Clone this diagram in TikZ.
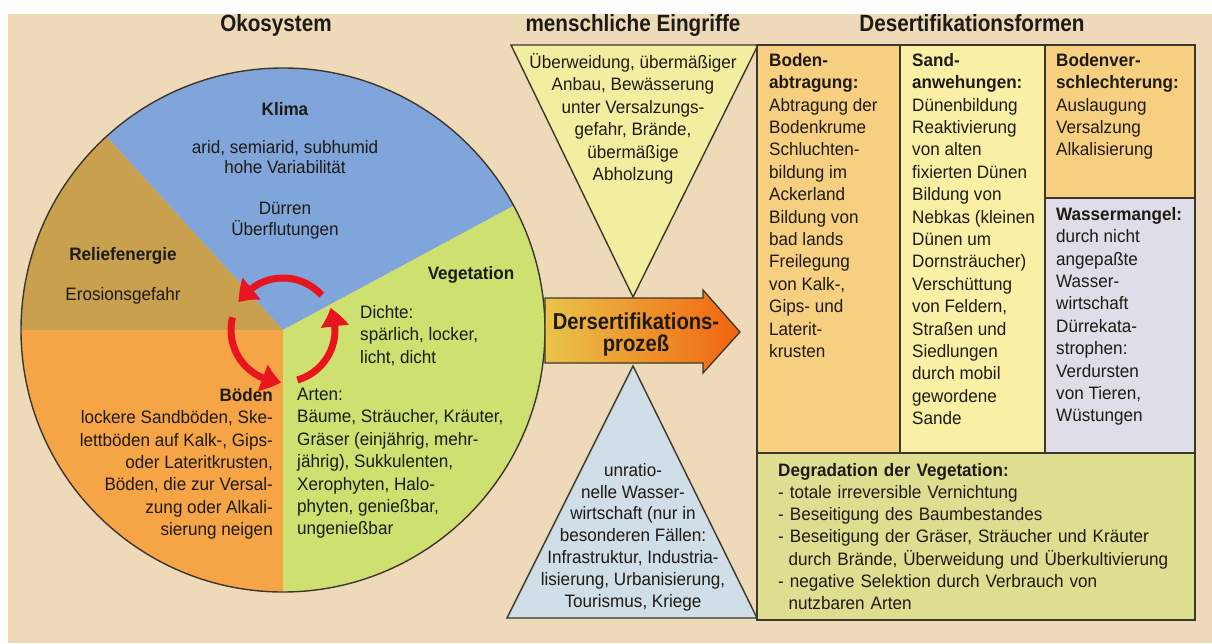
\documentclass[tikz,border=0pt]{standalone}
\usepackage{fontspec}
\setmainfont{Liberation Sans}[FakeStretch=0.95]
\newfontfamily\headfont{Liberation Sans}[FakeStretch=0.88]
\usetikzlibrary{arrows.meta,bending}
\definecolor{bgC}{RGB}{238,218,184}
\definecolor{blueC}{RGB}{128,165,218}
\definecolor{greenC}{RGB}{205,224,112}
\definecolor{brownC}{RGB}{200,160,78}
\definecolor{orangeC}{RGB}{246,165,70}
\definecolor{redC}{RGB}{232,20,30}
\definecolor{triTopC}{RGB}{242,238,160}
\definecolor{triBotC}{RGB}{208,222,232}
\definecolor{colAC}{RGB}{246,208,128}
\definecolor{colBC}{RGB}{249,240,165}
\definecolor{colCC}{RGB}{222,221,232}
\definecolor{degrC}{RGB}{222,222,145}
\definecolor{inkC}{RGB}{30,26,22}
\definecolor{lineC}{RGB}{60,55,45}
\definecolor{arrLC}{RGB}{233,196,74}
\definecolor{arrRC}{RGB}{242,100,16}
\tikzset{
  txt/.style={inner sep=0pt, text=inkC, font=\fontsize{18}{22.4}\selectfont,
    execute at begin node={\rule{0pt}{17pt}}},
  headtxt/.style={inner sep=0pt, text=inkC, anchor=base,
    font=\headfont\bfseries\fontsize{23.5}{26}\selectfont},
  formbox/.style={draw=lineC, line width=1.4pt},
  cyclearr/.style={draw=redC, line width=7pt,
    -{Triangle[length=19pt,width=27pt,bend]}},
}
\begin{document}
\begin{tikzpicture}[x=1pt,y=-1pt]
\useasboundingbox (0,0) rectangle (1212,643);
\fill[white] (0,0) rectangle (1212,643);
\fill[bgC] (8,14) rectangle (1212,643);

% headings
\node[headtxt] (h1) at (276,31) {Okosystem};
\node[headtxt] (h2) at (633,31) {menschliche Eingriffe};
\node[headtxt] (h3) at (972,31) {Desertifikationsformen};

% pie
\coordinate (C) at (283,330);
\fill[blueC] (C) -- ++(-28.3:262) arc[start angle=-28.3, end angle=-132.4, radius=262] -- cycle;
\fill[brownC] (C) -- ++(-132.4:262) arc[start angle=-132.4, end angle=-180, radius=262] -- cycle;
\fill[orangeC] (C) -- ++(-180:262) arc[start angle=-180, end angle=-270, radius=262] -- cycle;
\fill[greenC] (C) -- ++(-270:262) arc[start angle=-270, end angle=-388.3, radius=262] -- cycle;
\draw[lineC, line width=1.4pt] (C) circle[radius=262];

% red cycle arrows
\draw[cyclearr] ([shift={(-42:52)}]C) arc[start angle=-42, end angle=-148, radius=52];
\draw[cyclearr] ([shift={(-166:52)}]C) arc[start angle=-166, end angle=-268, radius=52];
\draw[cyclearr] ([shift={(-286:52)}]C) arc[start angle=-286, end angle=-385, radius=52];

% pie texts
\node[txt, anchor=north] (klimaT) at (285,98) {\textbf{Klima}};
\node[txt, anchor=north, align=center, font=\fontsize{18}{20.5}\selectfont] (klimaA) at (285,140)
  {arid, semiarid, subhumid\\hohe Variabilität};
\node[txt, anchor=north, align=center, font=\fontsize{18}{20.5}\selectfont] (klimaB) at (285,202)
  {Dürren\\Überflutungen};
\node[txt, anchor=north] (reliefT) at (123,243) {\textbf{Reliefenergie}};
\node[txt, anchor=north] (reliefA) at (123,283) {Erosionsgefahr};
\node[txt, anchor=north] (vegT) at (471,262) {\textbf{Vegetation}};
\node[txt, anchor=north west, align=left] (dichte) at (360,305)
  {Dichte:\\spärlich, locker,\\licht, dicht};
\node[txt, anchor=north west, align=left] (arten) at (297,388)
  {Arten:\\Bäume, Sträucher, Kräuter,\\Gräser (einjährig, mehr-\\jährig), Sukkulenten,\\Xerophyten, Halo-\\phyten, genießbar,\\ungenießbar};
\node[txt, anchor=north east, align=right] (boeden) at (273,388)
  {\textbf{Böden}\\lockere Sandböden, Ske-\\lettböden auf Kalk-, Gips-\\oder Lateritkrusten,\\Böden, die zur Versal-\\zung oder Alkali-\\sierung neigen};

% triangles
\draw[lineC, line width=1.4pt, fill=triTopC] (511,45) -- (758,45) -- (633,297) -- cycle;
\draw[lineC, line width=1.4pt, fill=triBotC] (633,366) -- (757,618) -- (507,618) -- cycle;
\node[txt, anchor=north, align=center, font=\fontsize{18}{22.5}\selectfont] (eingrOben) at (633,53)
  {Überweidung, übermäßiger\\Anbau, Bewässerung\\unter Versalzungs-\\gefahr, Brände,\\übermäßige\\Abholzung};
\node[txt, anchor=north, align=center, font=\fontsize{18}{21.8}\selectfont] (eingrUnten) at (633,463)
  {unratio-\\nelle Wasser-\\wirtschaft (nur in\\besonderen Fällen:\\Infrastruktur, Industria-\\lisierung, Urbanisierung,\\Tourismus, Kriege};

% process arrow
\draw[lineC, line width=1.3pt, left color=arrLC, right color=arrRC]
  (545,298) -- (703,298) -- (703,290) -- (740,332) -- (703,373) -- (703,363) -- (545,363) -- cycle;
\node[txt, anchor=north, align=center, font=\headfont\bfseries\fontsize{23}{22}\selectfont] (prozess) at (636,313)
  {Dersertifikations-\\prozeß};

% desertification forms
\draw[formbox, fill=colAC] (757,45) rectangle (900,453);
\draw[formbox, fill=colBC] (900,45) rectangle (1045,453);
\draw[formbox, fill=colAC] (1045,45) rectangle (1195,198);
\draw[formbox, fill=colCC] (1045,198) rectangle (1195,453);
\draw[formbox, fill=degrC] (757,453) rectangle (1195,620);

\node[txt, anchor=north west, align=left] (colA) at (769,53)
  {\textbf{Boden-}\\\textbf{abtragung:}\\Abtragung der\\Bodenkrume\\Schluchten-\\bildung im\\Ackerland\\Bildung von\\bad lands\\Freilegung\\von Kalk-,\\Gips- und\\Laterit-\\krusten};
\node[txt, anchor=north west, align=left] (colB) at (912,53)
  {\textbf{Sand-}\\\textbf{anwehungen:}\\Dünenbildung\\Reaktivierung\\von alten\\fixierten Dünen\\Bildung von\\Nebkas (kleinen\\Dünen um\\Dornsträucher)\\Verschüttung\\von Feldern,\\Straßen und\\Siedlungen\\durch mobil\\gewordene\\Sande};
\node[txt, anchor=north west, align=left] (colC) at (1056,53)
  {\textbf{Bodenver-}\\\textbf{schlechterung:}\\Auslaugung\\Versalzung\\Alkalisierung};
\node[txt, anchor=north west, align=left] (colD) at (1056,207)
  {\textbf{Wassermangel:}\\durch nicht\\angepaßte\\Wasser-\\wirtschaft\\Dürrekata-\\strophen:\\Verdursten\\von Tieren,\\Wüstungen};
\node[txt, anchor=north west, align=left, text width=410pt, font=\fontsize{18}{22.2}\selectfont] (degr) at (778,459)
  {\textbf{Degradation der Vegetation:}\\- totale irreversible Vernichtung\\- Beseitigung des Baumbestandes\\- Beseitigung der Gräser, Sträucher und Kräuter\\\hspace*{10.5pt}durch Brände, Überweidung und Überkultivierung\\- negative Selektion durch Verbrauch von\\\hspace*{10.5pt}nutzbaren Arten};
\end{tikzpicture}
\end{document}
